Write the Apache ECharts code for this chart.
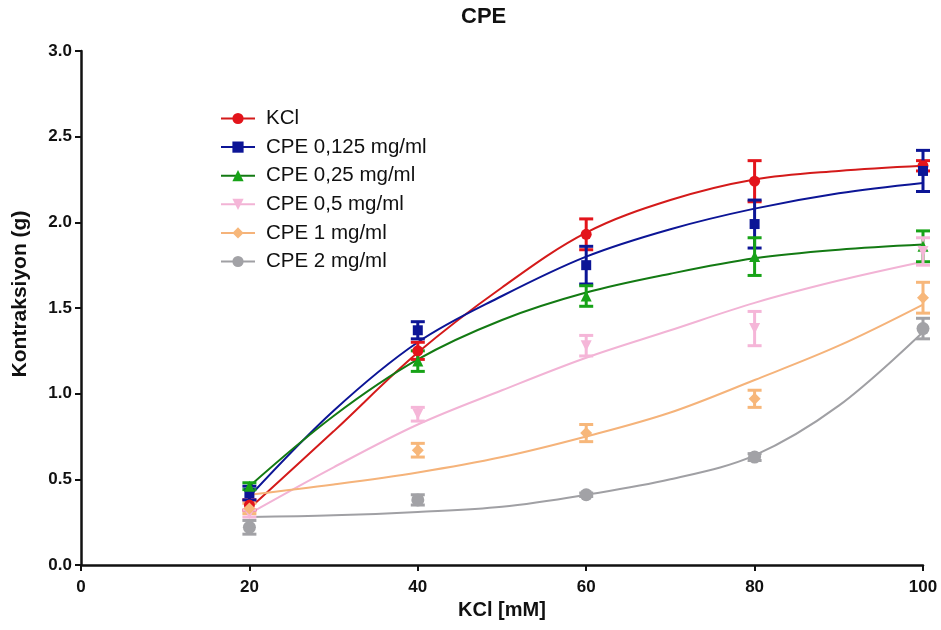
<!DOCTYPE html>
<html><head><meta charset="utf-8">
<script src="https://cdn.jsdelivr.net/npm/echarts@6/dist/echarts.min.js"></script>
<style>html,body{margin:0;padding:0;background:#fff}#c{width:941px;height:630px}</style>
</head><body><div id="c"></div>
<script>
const xPoints = [20, 40, 60, 80, 100];
const xCurve = [20, 30, 40, 50, 60, 70, 80, 90, 100];
const seriesNames = ['KCl', 'CPE 0,125 mg/ml', 'CPE 0,25 mg/ml', 'CPE 0,5 mg/ml', 'CPE 1 mg/ml', 'CPE 2 mg/ml'];
// mean values
const meanKCl   = [0.35, 1.25, 1.93, 2.24, 2.33];
const mean0125  = [0.42, 1.37, 1.75, 1.99, 2.30];
const mean025   = [0.46, 1.19, 1.57, 1.80, 1.86];
const mean05    = [0.30, 0.88, 1.28, 1.38, 1.83];
const mean1     = [0.33, 0.67, 0.77, 0.97, 1.56];
const mean2     = [0.22, 0.38, 0.41, 0.63, 1.38];
// error (SEM)
const errKCl    = [0.03, 0.05, 0.09, 0.12, 0.03];
const err0125   = [0.04, 0.05, 0.11, 0.14, 0.12];
const err025    = [0.02, 0.06, 0.06, 0.11, 0.09];
const err05     = [0.02, 0.04, 0.06, 0.10, 0.08];
const err1      = [0.03, 0.04, 0.05, 0.05, 0.09];
const err2      = [0.04, 0.03, 0.01, 0.02, 0.06];
// fitted curves
const fitKCl    = [0.33, 0.78, 1.24, 1.62, 1.94, 2.13, 2.25, 2.30, 2.33];
const fit0125   = [0.40, 0.90, 1.30, 1.57, 1.80, 1.96, 2.08, 2.17, 2.23];
const fit025    = [0.46, 0.87, 1.20, 1.43, 1.59, 1.70, 1.79, 1.84, 1.87];
const fit05     = [0.30, 0.57, 0.82, 1.02, 1.21, 1.37, 1.53, 1.66, 1.77];
const fit1      = [0.41, 0.47, 0.54, 0.63, 0.75, 0.89, 1.08, 1.28, 1.52];
const fit2      = [0.28, 0.29, 0.31, 0.34, 0.41, 0.50, 0.64, 0.93, 1.36];
const yTicks = [0, 0.5, 1.0, 1.5, 2.0, 2.5, 3.0];
const xTicks = [0, 20, 40, 60, 80, 100];

const means = [meanKCl, mean0125, mean025, mean05, mean1, mean2];
const errs = [errKCl, err0125, err025, err05, err1, err2];
const fits = [fitKCl, fit0125, fit025, fit05, fit1, fit2];
const colors = ['#e3141b', '#0c1596', '#17a317', '#f5b6d8', '#f7b77a', '#a2a2a6'];
const lineColors = ['#d41a1a', '#0c1596', '#137a13', '#f2b3d5', '#f5b37a', '#a0a0a4'];
const symbols = ['circle', 'rect', 'triangle', 'path://M0,0 L10,0 L5,10 Z', 'diamond', 'circle'];
const symSizes = [11, 10, 11, 11, 12, 13];

const series = [];
seriesNames.forEach((name, i) => {
  series.push({
    name, type: 'line', smooth: 0.35, showSymbol: false,
    symbol: symbols[i], symbolSize: symSizes[i],
    data: xCurve.map((x, k) => [x, fits[i][k]]),
    lineStyle: { color: lineColors[i], width: 2 },
    itemStyle: { color: colors[i] }, z: 2
  });
  series.push({
    name, type: 'custom',
    data: xPoints.map((x, k) => [x, means[i][k] - errs[i][k], means[i][k] + errs[i][k]]),
    renderItem: (params, api) => {
      const lo = api.coord([api.value(0), api.value(1)]);
      const hi = api.coord([api.value(0), api.value(2)]);
      const w = 7;
      const st = { stroke: colors[i], lineWidth: 3 };
      return { type: 'group', children: [
        { type: 'line', shape: { x1: lo[0], y1: lo[1], x2: hi[0], y2: hi[1] }, style: st },
        { type: 'line', shape: { x1: lo[0] - w, y1: lo[1], x2: lo[0] + w, y2: lo[1] }, style: st },
        { type: 'line', shape: { x1: hi[0] - w, y1: hi[1], x2: hi[0] + w, y2: hi[1] }, style: st }
      ]};
    },
    encode: { x: 0, y: [1, 2] }, z: 3
  });
  series.push({
    name, type: 'scatter', symbol: symbols[i], symbolSize: symSizes[i],
    data: xPoints.map((x, k) => [x, means[i][k]]),
    itemStyle: { color: colors[i], opacity: 1 }, z: 4
  });
});

const chart = echarts.init(document.getElementById('c'));
chart.setOption({
  animation: false,
  title: { text: 'CPE', left: 456, top: 1, textStyle: { fontFamily: 'Liberation Sans', fontWeight: 'bold', fontSize: 22, color: '#111' } },
  legend: {
    data: seriesNames, orient: 'vertical', left: 215, top: 103, itemGap: 7.6,
    itemWidth: 34, itemHeight: 14,
    textStyle: { fontFamily: 'Liberation Sans', fontSize: 20.5, color: '#111', padding: [0, 0, 0, 6] }
  },
  grid: { left: 81, right: 18, top: 51, bottom: 65 },
  xAxis: {
    type: 'value', min: 0, max: 100, interval: 20,
    name: 'KCl [mM]', nameLocation: 'middle', nameGap: 31,
    nameTextStyle: { fontFamily: 'Liberation Sans', fontWeight: 'bold', fontSize: 20, color: '#111' },
    axisLine: { lineStyle: { color: '#111', width: 2.5 } },
    axisTick: { show: true, length: 6, lineStyle: { color: '#111', width: 2 } },
    axisLabel: { fontFamily: 'Liberation Sans', fontWeight: 'bold', fontSize: 17, color: '#111', margin: 14,
      formatter: v => xTicks.includes(v) ? String(v) : '' },
    splitLine: { show: false }
  },
  yAxis: {
    type: 'value', min: 0, max: 3, interval: 0.5,
    name: 'Kontraksiyon (g)', nameLocation: 'middle', nameGap: 50,
    nameTextStyle: { fontFamily: 'Liberation Sans', fontWeight: 'bold', fontSize: 21, color: '#111', padding: [0, 0, 0, 28] },
    axisLine: { show: true, lineStyle: { color: '#111', width: 2.5 } },
    axisTick: { show: true, length: 6, lineStyle: { color: '#111', width: 2 } },
    axisLabel: { fontFamily: 'Liberation Sans', fontWeight: 'bold', fontSize: 17, color: '#111', margin: 9,
      formatter: v => yTicks.includes(v) ? v.toFixed(1) : '' },
    splitLine: { show: false }
  },
  series
});
</script></body></html>
